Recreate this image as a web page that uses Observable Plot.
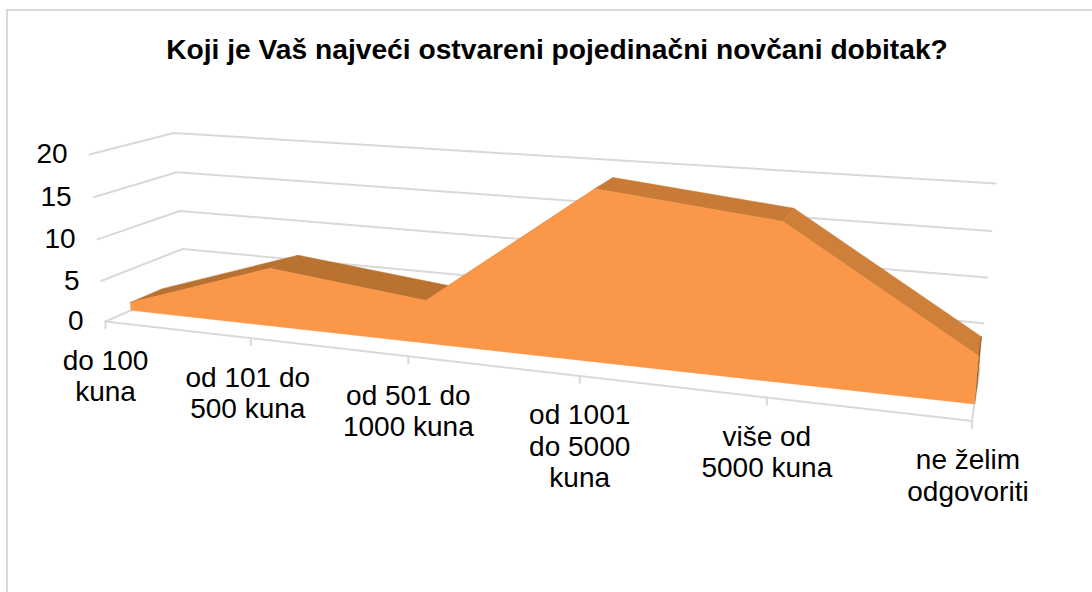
<!DOCTYPE html>
<html lang="hr">
<head>
<meta charset="utf-8">
<script src="https://cdn.jsdelivr.net/npm/d3@7"></script>
<script src="https://cdn.jsdelivr.net/npm/@observablehq/plot@0.6"></script>
<style>
  html, body { margin: 0; padding: 0; background: #fff; width: 1092px; height: 592px; overflow: hidden; }
  #frame { position: absolute; left: 6px; top: 9px; right: 0; bottom: 0; border-top: 2px solid #d9d9d9; border-left: 2px solid #d9d9d9; }
  #title { position: absolute; left: 0; top: 0; width: 1114px; height: 100px; text-align: center;
           font: bold 28.2px/98px "Liberation Sans", Arial, sans-serif; color: #000; white-space: nowrap; }
  #chart { position: absolute; left: 0; top: 100px; }
  svg { display: block; overflow: visible; }
</style>
</head>
<body>
<div id="frame"></div>
<div id="title">Koji je Vaš najveći ostvareni pojedinačni novčani dobitak?</div>
<div id="chart"></div>
<script>
const categories = ["do 100\nkuna", "od 101 do\n500 kuna", "od 501 do\n1000 kuna", "od 1001\ndo 5000\nkuna", "više od\n5000 kuna", "ne želim\nodgovoriti"];
const values = [1, 7, 5, 19, 17, 5];
const yTicks = [0, 5, 10, 15, 20];
const labelNudge = [0, -3, 0, 0, 0, -4];
const faceColors = ["#b87130", "#b97230", "#c77b36", "#c77b36", "#ce7f39"];
const frontColor = "#fa9748";
const sideColor = "#8f5a24";
const gridColor = "#d9d9d9";
const font = "Liberation Sans";

// Camera of the 3-D area chart: category position u (0..1), value v, depth w (0..1)
const yMax = 20, frontDepth = 0.3, backDepth = 0.7;
function project(i, v, w) {
  const u = i / (categories.length - 1), t = v / yMax;
  const d = 1 - 0.194 * u - 0.0334 * t + 0.093 * w;
  return {
    x: (105 + 678 * u - 18.9 * t + 97.2 * w) / d,
    y: (321 + 18 * u - 172.2 * t - 8.4 * w) / d
  };
}
const lastI = categories.length - 1;

// Polygons of the solid, in painting order
const polys = [];
const pushPoly = (fill, corners) => polys.push({fill, points: corners.map(c => project(...c))});
values.slice(0, -1).forEach((v, i) => {
  pushPoly(faceColors[i], [
    [i, v, frontDepth], [i + 1, values[i + 1], frontDepth],
    [i + 1, values[i + 1], backDepth], [i, v, backDepth], [i, v, frontDepth]
  ]);
});
pushPoly(sideColor, [
  [lastI, values[lastI], frontDepth], [lastI, values[lastI], backDepth],
  [lastI, 0, backDepth], [lastI, 0, frontDepth], [lastI, values[lastI], frontDepth]
]);
pushPoly(frontColor, [
  ...values.map((v, i) => [i, v, frontDepth]),
  [lastI, 0, frontDepth], [0, 0, frontDepth], [0, values[0], frontDepth]
]);

// Grid lines: left wall + back wall per tick, floor edges, category ticks
const gridPts = [];
yTicks.forEach(t => {
  [[0, t, 0], [0, t, 1], [lastI, t, 1]].forEach(c => gridPts.push({id: "g" + t, ...project(...c)}));
});
[[0, 0, 0], [lastI, 0, 0], [lastI, 0, 1]].forEach(c => gridPts.push({id: "floor", ...project(...c)}));
categories.forEach((c, i) => {
  const p = project(i, 0, 0);
  gridPts.push({id: "t" + i, ...p}, {id: "t" + i, x: p.x, y: p.y + 7});
});

const yLabels = yTicks.map(t => ({label: String(t), ...project(0, t, 0)}));
const xLabels = categories.map((label, i) => {
  const p = project(i, 0, 0);
  return {label, x: p.x + labelNudge[i], y: p.y};
});

const plot = Plot.plot({
  width: 1092,
  height: 492,
  margin: 0,
  x: {domain: [0, 1092], range: [0, 1092], axis: null},
  y: {domain: [100, 592], range: [0, 492], axis: null},
  marks: [
    Plot.line(gridPts, {x: "x", y: "y", z: "id", stroke: gridColor, strokeWidth: 2}),
    ...polys.map(p => Plot.line(p.points, {x: "x", y: "y", fill: p.fill, stroke: p.fill, strokeWidth: 0.5})),
    Plot.text(yLabels, {x: "x", y: "y", text: "label", textAnchor: "end", dx: -22, fontSize: 28, fontFamily: font, fill: "#000"}),
    Plot.text(xLabels, {x: "x", y: "y", text: "label", textAnchor: "middle", lineAnchor: "top", dy: 26, fontSize: 28, lineHeight: 1.125, fontFamily: font, fill: "#000"})
  ]
});
document.getElementById("chart").append(plot);
</script>
</body>
</html>
